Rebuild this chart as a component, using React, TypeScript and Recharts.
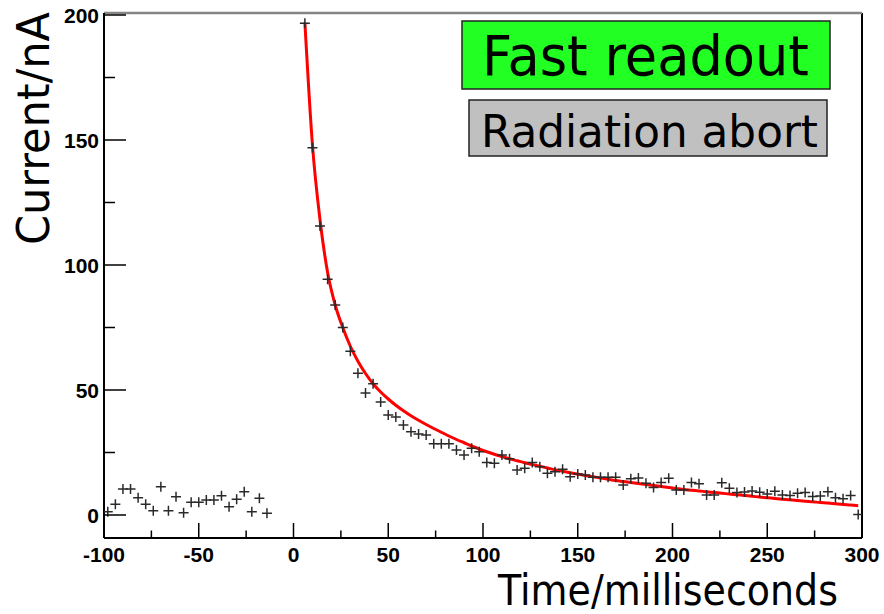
import { ComposedChart, XAxis, YAxis, Scatter, Line, ReferenceLine } from 'recharts';

// time bins (ms) and measured current (nA) before the abort
const preTimes = [-98, -94, -90, -86, -82, -78, -74, -70, -66, -62, -58, -54, -50, -46, -42, -38, -34, -30, -26, -22, -18, -14];
const preCurrent = [1.3, 4.3, 10.4, 10.4, 6.9, 4.3, 1.7, 11.3, 1.7, 7.3, 0.9, 5.1, 5.1, 6.0, 6.0, 7.7, 3.3, 6.3, 9.3, 1.3, 6.7, 0.7];

// after the abort
const postTimes = [
  6, 10, 14, 18, 22, 26, 30, 34, 38, 42, 46, 50, 54, 58, 62, 66, 70, 74, 78, 82, 86, 90, 94, 98,
  102, 106, 110, 114, 118, 122, 126, 130, 134, 138, 142, 146, 150, 154, 158, 162, 166, 170, 174, 178,
  182, 186, 190, 194, 198, 202, 206, 210, 214, 218, 222, 226, 230, 234, 238, 242, 246, 250, 254, 258,
  262, 266, 270, 274, 278, 282, 286, 290, 294, 298,
];
const postCurrent = [
  196.7, 146.9, 115.6, 94.3, 84, 75, 65.5, 56.7, 48.8, 52.5, 45.2, 40, 39.2, 36, 33.3, 32.4, 32, 28.5, 28.5, 28.5, 26, 24, 26.7, 25.3,
  21, 20.7, 24, 22.5, 18, 18.7, 21, 19.3, 16.7, 17.3, 18.3, 15.3, 16.4, 16, 15.1, 15.1, 15.1, 15.1, 12, 14.5,
  14.8, 12.7, 11, 13, 14.7, 10, 10, 13, 12.5, 8, 8, 12.9, 10.7, 9, 9.2, 9.6, 9.1, 8.4, 9.5, 8,
  7.8, 8.7, 9, 7.4, 7.6, 9.3, 6.9, 6.5, 7.8, 0.2,
];
// fitted decay curve, read at the same bins
const fitCurrent = [
  197, 148, 118, 97, 84, 75, 67.5, 61.5, 56.6, 52.5, 49.2, 46.4, 43.9, 41.7, 39.7, 37.9, 36.2, 34.6, 33.1, 31.6, 30.2, 28.9, 27.6, 26.4,
  25.3, 24.3, 23.4, 22.5, 21.7, 20.9, 20.2, 19.5, 18.8, 18.1, 17.5, 16.9, 16.3, 15.8, 15.3, 14.8, 14.3, 13.8, 13.4, 13.0,
  12.6, 12.2, 11.8, 11.4, 11.0, 10.6, 10.2, 9.9, 9.6, 9.3, 9.0, 8.7, 8.4, 8.1, 7.8, 7.5, 7.2, 6.9, 6.6, 6.3,
  6.1, 5.8, 5.5, 5.3, 5.0, 4.8, 4.5, 4.2, 4.0, 3.7,
];

const xTicks = [-100, -75, -50, -25, 0, 25, 50, 75, 100, 125, 150, 175, 200, 225, 250, 275, 300];
const yTicks = [0, 25, 50, 75, 100, 125, 150, 175, 200];
const xDomain: [number, number] = [-100, 300];
const yDomain: [number, number] = [-9.2, 200.8];

const points = [
  ...preTimes.map((t, i) => ({ t, current: preCurrent[i] })),
  ...postTimes.map((t, i) => ({ t, current: postCurrent[i] })),
];
const fitData = postTimes.map((t, i) => ({ t, fit: fitCurrent[i] }));

const tickFont = '"Liberation Sans", Arial, sans-serif';
const titleFont = '"DejaVu Sans", "Noto Sans", sans-serif';

function XTick({ x, y, payload }: any) {
  const v = payload.value;
  const major = v % 50 === 0;
  return (
    <g>
      <line x1={x} x2={x} y1={y} y2={y - (major ? 15 : 7.5)} stroke="#000" strokeWidth={1.5} />
      {major && (
        <text x={x} y={y + 24} textAnchor="middle" fontFamily={tickFont} fontWeight="bold" fontSize={21} fill="#000">
          {v}
        </text>
      )}
    </g>
  );
}

function YTick({ x, y, payload }: any) {
  const v = payload.value;
  const major = v % 50 === 0;
  return (
    <g>
      <line x1={x} x2={x + (major ? 22 : 11)} y1={y} y2={y} stroke="#000" strokeWidth={1.5} />
      {major && (
        <text x={x - 5} y={y + 7.5} textAnchor="end" fontFamily={tickFont} fontWeight="bold" fontSize={21} fill="#000">
          {v}
        </text>
      )}
    </g>
  );
}

function PlusMark({ cx, cy }: any) {
  if (cx == null || cy == null) return null;
  return (
    <g stroke="#2a2a2a" strokeWidth={1.5}>
      <line x1={cx - 5} x2={cx + 5} y1={cy} y2={cy} />
      <line x1={cx} x2={cx} y1={cy - 5} y2={cy + 5} />
    </g>
  );
}

export default function App() {
  return (
    <div style={{ position: 'absolute', left: 0, top: 0, width: 884, height: 614, background: '#fff', overflow: 'hidden' }}>
      <ComposedChart width={884} height={614} margin={{ top: 13, right: 22, bottom: 0, left: 0 }}>
        <XAxis
          dataKey="t"
          type="number"
          domain={xDomain}
          ticks={xTicks}
          interval={0}
          allowDataOverflow
          height={76}
          tickSize={0}
          tickMargin={0}
          tickLine={false}
          tick={<XTick />}
          axisLine={{ stroke: '#000', strokeWidth: 2 }}
        />
        <YAxis
          type="number"
          domain={yDomain}
          ticks={yTicks}
          interval={0}
          allowDataOverflow
          width={104}
          tickSize={0}
          tickMargin={0}
          tickLine={false}
          tick={<YTick />}
          axisLine={{ stroke: '#000', strokeWidth: 2 }}
        />
        <ReferenceLine x={xDomain[1]} stroke="#000" strokeWidth={2} ifOverflow="visible" />
        <ReferenceLine y={yDomain[1]} stroke="#858585" strokeWidth={2.5} ifOverflow="visible" />
        <Scatter data={points} dataKey="current" shape={<PlusMark />} isAnimationActive={false} />
        <Line
          data={fitData}
          dataKey="fit"
          type="monotone"
          stroke="#ff0000"
          strokeWidth={3}
          dot={false}
          activeDot={false}
          isAnimationActive={false}
        />
      </ComposedChart>
      <svg width={884} height={614} style={{ position: 'absolute', left: 0, top: 0, pointerEvents: 'none' }}>
        <text
          transform="translate(49, 245) rotate(-90)"
          fontFamily={titleFont}
          fontSize={44}
          textLength={233}
          lengthAdjust="spacingAndGlyphs"
          fill="#000"
        >
          Current/nA
        </text>
        <text x={498} y={605} fontFamily={titleFont} fontSize={42} textLength={340} lengthAdjust="spacingAndGlyphs" fill="#000">
          Time/milliseconds
        </text>
        <rect x={462} y={21} width={368} height={68} fill="#22ff22" stroke="#222" strokeWidth={1.5} />
        <text x={482} y={75} fontFamily={titleFont} fontSize={55} textLength={327} lengthAdjust="spacingAndGlyphs" fill="#000">
          Fast readout
        </text>
        <rect x={469} y={100} width={358} height={56} fill="#c0c0c0" stroke="#222" strokeWidth={1.5} />
        <text x={481} y={147} fontFamily={titleFont} fontSize={44} textLength={337} lengthAdjust="spacingAndGlyphs" fill="#000">
          Radiation abort
        </text>
      </svg>
    </div>
  );
}
